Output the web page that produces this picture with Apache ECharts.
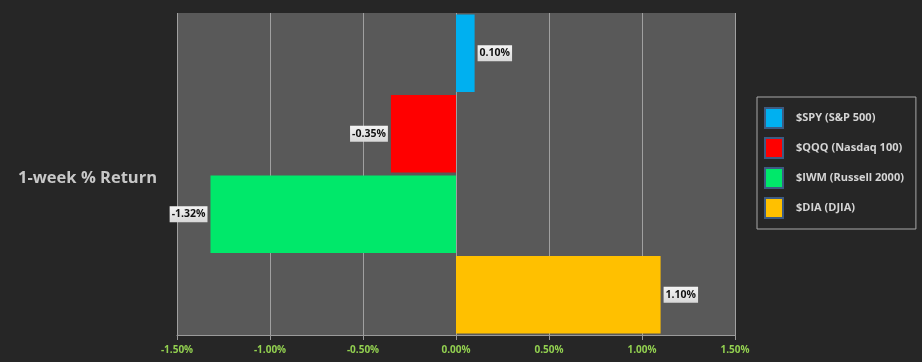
<!DOCTYPE html>
<html><head><meta charset="utf-8">
<script src="https://cdn.jsdelivr.net/npm/echarts@6/dist/echarts.min.js"></script>
<style>html,body{margin:0;padding:0;background:#262626;}#c{width:922px;height:362px;}</style>
</head><body><div id="c"></div>
<script>
const categories = ['$SPY (S&P 500)', '$QQQ (Nasdaq 100)', '$IWM (Russell 2000)', '$DIA (DJIA)'];
const values = [0.10, -0.35, -1.32, 1.10];
const colors = ['#00b0f0', '#ff0000', '#00e86a', '#ffc000'];
const xTicks = { min: -1.5, max: 1.5, interval: 0.5 };
const titleText = '1-week % Return';

const chart = echarts.init(document.getElementById('c'));
const series = categories.map((name, i) => ({
  name: name,
  type: 'bar',
  stack: 'all',
  barCategoryGap: '4%',
  itemStyle: { color: colors[i] },
  data: categories.map((c, j) => j === i ? values[i] : '-'),
  label: {
    show: true,
    position: values[i] >= 0 ? 'right' : 'left',
    distance: 3,
    formatter: p => p.value.toFixed(2) + '%',
    color: '#111',
    fontFamily: 'Open Sans',
    fontSize: 10.5,
    fontWeight: 'bold',
    padding: [3, 2, 2, 2],
    backgroundColor: new echarts.graphic.LinearGradient(0, 0, 0, 1, [
      { offset: 0, color: '#f4f4f4' }, { offset: 1, color: '#d8d8d8' }
    ])
  }
}));

chart.setOption({
  backgroundColor: '#262626',
  animation: false,
  title: {
    text: titleText,
    left: 13, top: 165,
    textStyle: { color: '#c8c8c8', fontSize: 16.5, fontWeight: 'bold', fontFamily: 'Open Sans' }
  },
  grid: {
    left: 177, right: 187, top: 13, bottom: 27,
    show: true, backgroundColor: '#595959', borderWidth: 0
  },
  legend: {
    orient: 'vertical',
    left: 757, top: 97,
    padding: [10, 12, 10, 7],
    itemWidth: 18, itemHeight: 20, itemGap: 8,
    icon: 'rect',
    borderColor: '#a8a8a8', borderWidth: 1,
    itemStyle: { borderColor: '#3d5b82', borderWidth: 2 },
    textStyle: { color: '#d4d4d4', fontSize: 11, fontWeight: 'bold', fontFamily: 'Open Sans', padding: [0, 0, 0, 8], lineHeight: 20 },
    data: categories
  },
  xAxis: {
    type: 'value',
    min: xTicks.min, max: xTicks.max, interval: xTicks.interval,
    axisLine: { show: true, lineStyle: { color: '#9a9a9a' } },
    axisTick: { show: true, length: 5, lineStyle: { color: '#9a9a9a' } },
    splitLine: { show: true, lineStyle: { color: '#a0a0a0', width: 1 } },
    axisLabel: {
      color: '#92d050', fontSize: 10, fontWeight: 'bold', fontFamily: 'Open Sans', margin: 10,
      formatter: v => v.toFixed(2) + '%'
    }
  },
  yAxis: {
    type: 'category',
    data: categories,
    inverse: true,
    axisLine: { show: false }, axisTick: { show: false }, axisLabel: { show: false },
    splitLine: { show: false }
  },
  series: series
});
</script></body></html>
